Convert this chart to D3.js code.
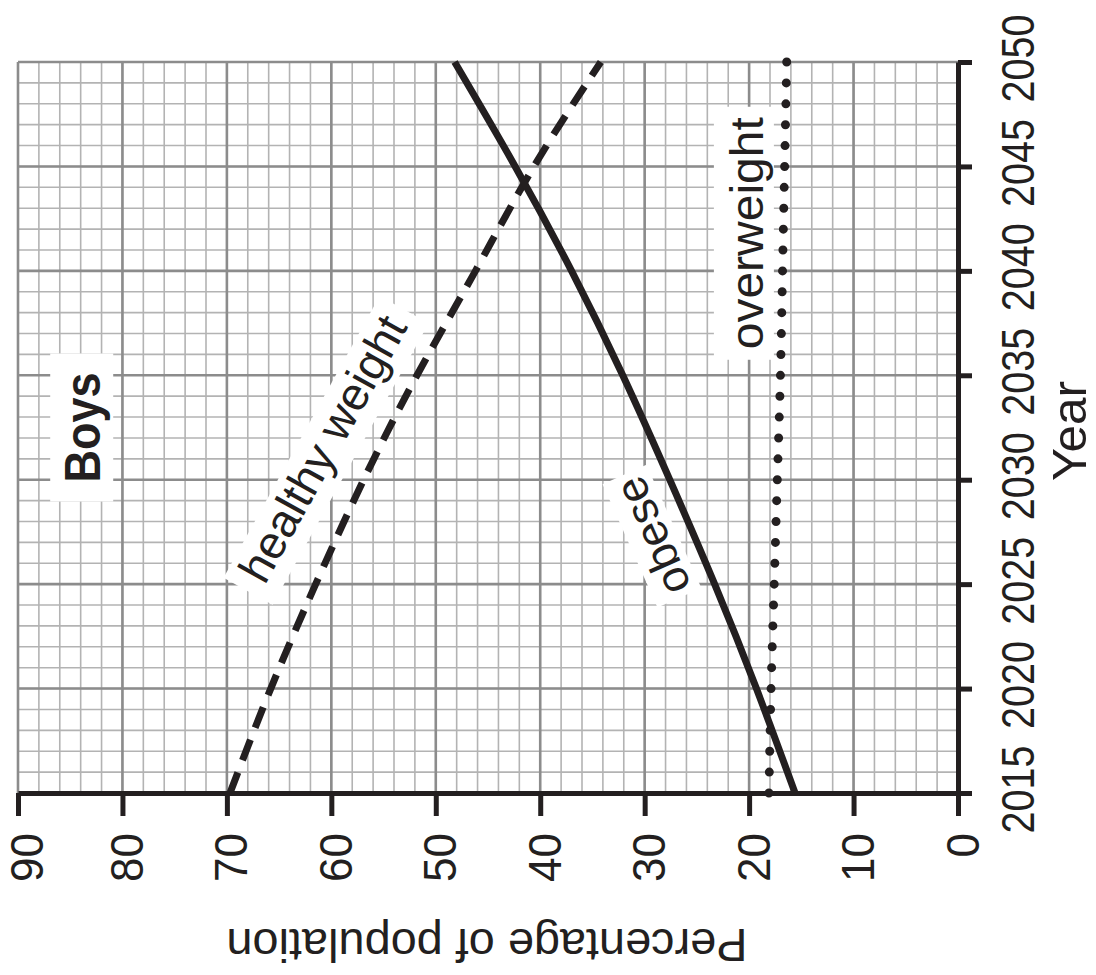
<!DOCTYPE html>
<html>
<head>
<meta charset="utf-8">
<script src="https://cdn.jsdelivr.net/npm/d3@7"></script>
<style>
  body { margin: 0; background: #fff; }
  text { font-family: "Liberation Sans", Arial, Helvetica, sans-serif; fill: #231f20; }
</style>
</head>
<body>
<div id="chart"></div>
<script>
const years = [2015, 2020, 2025, 2030, 2035, 2040, 2045, 2050];
const healthy = [69.7, 65.8, 61.5, 56.9, 51.8, 46.2, 40.6, 34.2];
const obese = [15.6, 19.3, 23.3, 27.6, 32.1, 37.0, 42.4, 48.2];
const overweight = [18.1, 17.9, 17.6, 17.3, 17.0, 16.8, 16.6, 16.4];
const pctTicks = [0, 10, 20, 30, 40, 50, 60, 70, 80, 90];
const yearTicks = [2015, 2020, 2025, 2030, 2035, 2040, 2045, 2050];

const width = 1096, height = 975;
const ink = "#231f20";

const svg = d3.select("#chart").append("svg")
  .attr("width", width).attr("height", height);

// the whole chart is turned a quarter turn: percent runs right-to-left, years bottom-to-top
const x = d3.scaleLinear().domain([0, 90]).range([958, 18]);
const y = d3.scaleLinear().domain([2015, 2050]).range([793, 62]);

// grid
const grid = svg.append("g");
grid.selectAll(".vminor").data(d3.range(0, 91, 2)).join("line")
  .attr("x1", d => x(d)).attr("x2", d => x(d))
  .attr("y1", y(2015)).attr("y2", y(2050))
  .attr("stroke", "#b3b3b3").attr("stroke-width", 1.6);
grid.selectAll(".hminor").data(d3.range(2015, 2051, 1)).join("line")
  .attr("x1", x(0)).attr("x2", x(90))
  .attr("y1", d => y(d)).attr("y2", d => y(d))
  .attr("stroke", "#b3b3b3").attr("stroke-width", 1.6);
grid.selectAll(".vmajor").data(pctTicks).join("line")
  .attr("x1", d => x(d)).attr("x2", d => x(d))
  .attr("y1", y(2015)).attr("y2", y(2050))
  .attr("stroke", "#8c8c8c").attr("stroke-width", 2.6);
grid.selectAll(".hmajor").data(yearTicks).join("line")
  .attr("x1", x(0)).attr("x2", x(90))
  .attr("y1", d => y(d)).attr("y2", d => y(d))
  .attr("stroke", "#8c8c8c").attr("stroke-width", 2.6);

// label boxes + texts
function label(cx, cy, angle, boxW, boxH, txt, size, len, base, bold) {
  const g = svg.append("g").attr("transform", `translate(${cx},${cy}) rotate(${angle})`);
  g.append("rect").attr("x", -boxW / 2).attr("y", -boxH / 2)
    .attr("width", boxW).attr("height", boxH).attr("fill", "#fff");
  g.append("text").attr("x", 0).attr("y", base)
    .attr("text-anchor", "middle")
    .attr("font-size", size)
    .attr("font-weight", bold ? "bold" : "normal")
    .attr("textLength", len).attr("lengthAdjust", "spacingAndGlyphs")
    .text(txt);
}
label(x(83.9), y(2032.5), -90, 148, 63, "Boys", 50, 110, 18, true);
label(x(60.5), y(2031.4), -61, 322, 56, "healthy weight", 46, 296, 12, false);
label(x(29.3), y(2027.3), -114, 135, 48, "obese", 45, 124, 16, false);
label(x(20.5), y(2041.8), -90, 253, 60, "overweight", 47, 232, 19, false);

// lines
const line = d3.line()
  .x(d => x(d[1])).y(d => y(d[0]))
  .curve(d3.curveNatural);

svg.append("path").datum(years.map((yr, i) => [yr, healthy[i]]))
  .attr("d", line).attr("fill", "none").attr("stroke", ink)
  .attr("stroke-width", 7).attr("stroke-dasharray", "22 13");
svg.append("path").datum(years.map((yr, i) => [yr, obese[i]]))
  .attr("d", line).attr("fill", "none").attr("stroke", ink)
  .attr("stroke-width", 7);
const dots = svg.append("path").datum(years.map((yr, i) => [yr, overweight[i]]))
  .attr("d", line).attr("fill", "none").attr("stroke", ink)
  .attr("stroke-width", 9).attr("stroke-linecap", "round");
const dotLen = dots.node().getTotalLength();
dots.attr("stroke-dasharray", `0 ${dotLen / 35 - 0.001}`);

// axes
const xAxis = svg.append("g").attr("transform", `translate(0,${y(2015)})`)
  .call(d3.axisBottom(x).tickValues(pctTicks).tickSize(23).tickSizeOuter(0).tickFormat(d3.format("d")));
xAxis.select(".domain").attr("stroke", ink).attr("stroke-width", 5);
xAxis.selectAll(".tick line").attr("stroke", ink).attr("stroke-width", 5);
xAxis.selectAll(".tick text")
  .attr("y", null).attr("dy", null)
  .attr("transform", d => `translate(${d === 90 ? 24 : 20},40) rotate(-90)`)
  .attr("text-anchor", "end")
  .attr("font-size", 46)
  .attr("textLength", d => String(d).length * 24.5)
  .attr("lengthAdjust", "spacingAndGlyphs")
  .attr("fill", ink);

const yAxis = svg.append("g").attr("transform", `translate(${x(0)},0)`)
  .call(d3.axisRight(y).tickValues(yearTicks).tickSize(14).tickSizeOuter(0).tickFormat(d3.format("d")));
yAxis.select(".domain").attr("stroke", ink).attr("stroke-width", 5);
yAxis.selectAll(".tick line").attr("stroke", ink).attr("stroke-width", 5);
yAxis.selectAll(".tick text")
  .attr("x", null).attr("dy", null)
  .attr("transform", "translate(76,-4) rotate(-90)")
  .attr("text-anchor", "middle")
  .attr("font-size", 46)
  .attr("textLength", 88)
  .attr("lengthAdjust", "spacingAndGlyphs")
  .attr("fill", ink);

// axis titles
svg.append("text")
  .attr("transform", "translate(1086,431) rotate(-90)")
  .attr("text-anchor", "middle")
  .attr("font-size", 48)
  .attr("textLength", 100).attr("lengthAdjust", "spacingAndGlyphs")
  .text("Year");
svg.append("text")
  .attr("transform", "translate(487,929) rotate(180)")
  .attr("text-anchor", "middle")
  .attr("font-size", 47)
  .attr("textLength", 521).attr("lengthAdjust", "spacingAndGlyphs")
  .text("Percentage of population");
</script>
</body>
</html>
